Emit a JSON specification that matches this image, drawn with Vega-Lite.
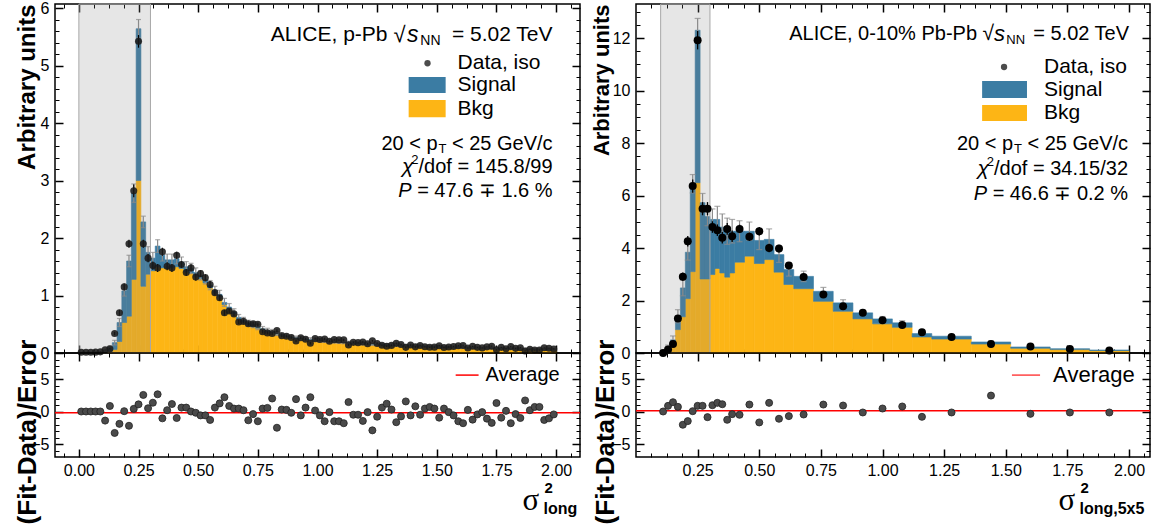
{
"$schema":"https://vega.github.io/schema/vega-lite/v6.json",
"padding":{"left":13,"top":-1,"right":7,"bottom":11},
"bounds":"flush",
"columns":2,
"spacing":{"row":0,"column":56},
"config":{"view":{"stroke":"black","strokeWidth":1.5},"axis":{"labelFont":"Liberation Sans","titleFont":"Liberation Sans","labelColor":"black","tickColor":"black","titleColor":"black","domain":false,"grid":false,"labelFontSize":16},"text":{"font":"Liberation Sans","color":"black"}},
"resolve":{"scale":{"x":"independent","y":"independent"}},
"datasets":{
"L":[
{"lo":0,"hi":0.02,"c":0.01,"tot":0.01,"bkg":0.005,"e":0.005,"d":0.012,"de":0.004,"r":0},
{"lo":0.02,"hi":0.04,"c":0.03,"tot":0.01,"bkg":0.005,"e":0.005,"d":0.012,"de":0.004,"r":0},
{"lo":0.04,"hi":0.06,"c":0.05,"tot":0.012,"bkg":0.005,"e":0.005,"d":0.012,"de":0.004,"r":0},
{"lo":0.06,"hi":0.08,"c":0.07,"tot":0.015,"bkg":0.006,"e":0.006,"d":0.015,"de":0.004,"r":0},
{"lo":0.08,"hi":0.1,"c":0.09,"tot":0.02,"bkg":0.008,"e":0.006,"d":0.02,"de":0.004,"r":0},
{"lo":0.1,"hi":0.12,"c":0.11,"tot":0.04,"bkg":0.012,"e":0.012,"d":0.055,"de":0.008,"r":-1.4},
{"lo":0.12,"hi":0.14,"c":0.13,"tot":0.1,"bkg":0.03,"e":0.02,"d":0.075,"de":0.014,"r":0.85},
{"lo":0.14,"hi":0.16,"c":0.15,"tot":0.18,"bkg":0.06,"e":0.04,"d":0.34,"de":0.03,"r":-3.3},
{"lo":0.16,"hi":0.18,"c":0.17,"tot":0.53,"bkg":0.2,"e":0.07,"d":0.7,"de":0.05,"r":-1.9},
{"lo":0.18,"hi":0.2,"c":0.19,"tot":1.08,"bkg":0.53,"e":0.09,"d":1.15,"de":0.06,"r":0.05},
{"lo":0.2,"hi":0.22,"c":0.21,"tot":1.6,"bkg":0.64,"e":0.1,"d":1.9,"de":0.07,"r":-2.2},
{"lo":0.22,"hi":0.24,"c":0.23,"tot":2.78,"bkg":1.28,"e":0.16,"d":2.82,"de":0.11,"r":0.4},
{"lo":0.24,"hi":0.26,"c":0.25,"tot":5.64,"bkg":3.0,"e":0.16,"d":5.42,"de":0.11,"r":1.1},
{"lo":0.26,"hi":0.28,"c":0.27,"tot":2.28,"bkg":1.16,"e":0.1,"d":1.9,"de":0.07,"r":2.55},
{"lo":0.28,"hi":0.3,"c":0.29,"tot":1.75,"bkg":1.37,"e":0.1,"d":1.65,"de":0.07,"r":0.5},
{"lo":0.3,"hi":0.32,"c":0.31,"tot":1.65,"bkg":1.43,"e":0.1,"d":1.52,"de":0.07,"r":1.35},
{"lo":0.32,"hi":0.34,"c":0.33,"tot":1.86,"bkg":1.5,"e":0.11,"d":1.48,"de":0.07,"r":2.65},
{"lo":0.34,"hi":0.36,"c":0.35,"tot":1.7,"bkg":1.48,"e":0.1,"d":1.76,"de":0.07,"r":-1.05},
{"lo":0.36,"hi":0.38,"c":0.37,"tot":1.62,"bkg":1.47,"e":0.1,"d":1.51,"de":0.07,"r":0.2},
{"lo":0.38,"hi":0.4,"c":0.39,"tot":1.62,"bkg":1.48,"e":0.1,"d":1.48,"de":0.07,"r":1.15},
{"lo":0.4,"hi":0.42,"c":0.41,"tot":1.64,"bkg":1.5,"e":0.09,"d":1.7,"de":0.06,"r":-1.0},
{"lo":0.42,"hi":0.44,"c":0.43,"tot":1.58,"bkg":1.47,"e":0.09,"d":1.54,"de":0.06,"r":0.6},
{"lo":0.44,"hi":0.46,"c":0.45,"tot":1.5,"bkg":1.41,"e":0.09,"d":1.4,"de":0.06,"r":0.6},
{"lo":0.46,"hi":0.48,"c":0.47,"tot":1.47,"bkg":1.39,"e":0.09,"d":1.48,"de":0.06,"r":0.0},
{"lo":0.48,"hi":0.5,"c":0.49,"tot":1.4,"bkg":1.33,"e":0.08,"d":1.32,"de":0.06,"r":-0.2},
{"lo":0.5,"hi":0.52,"c":0.51,"tot":1.35,"bkg":1.29,"e":0.08,"d":1.38,"de":0.06,"r":-0.6},
{"lo":0.52,"hi":0.54,"c":0.53,"tot":1.28,"bkg":1.22,"e":0.08,"d":1.31,"de":0.06,"r":-0.6},
{"lo":0.54,"hi":0.56,"c":0.55,"tot":1.18,"bkg":1.13,"e":0.08,"d":1.19,"de":0.06,"r":-1.3},
{"lo":0.56,"hi":0.58,"c":0.57,"tot":1.09,"bkg":1.04,"e":0.07,"d":1.05,"de":0.05,"r":0.6},
{"lo":0.58,"hi":0.6,"c":0.59,"tot":1.02,"bkg":0.97,"e":0.07,"d":0.96,"de":0.05,"r":1.25},
{"lo":0.6,"hi":0.62,"c":0.61,"tot":0.88,"bkg":0.84,"e":0.07,"d":0.7,"de":0.05,"r":2.2},
{"lo":0.62,"hi":0.64,"c":0.63,"tot":0.8,"bkg":0.76,"e":0.06,"d":0.73,"de":0.04,"r":0.85},
{"lo":0.64,"hi":0.66,"c":0.65,"tot":0.71,"bkg":0.68,"e":0.06,"d":0.68,"de":0.04,"r":0.45},
{"lo":0.66,"hi":0.68,"c":0.67,"tot":0.62,"bkg":0.59,"e":0.05,"d":0.54,"de":0.035,"r":0.45},
{"lo":0.68,"hi":0.7,"c":0.69,"tot":0.57,"bkg":0.54,"e":0.05,"d":0.55,"de":0.035,"r":0.2},
{"lo":0.7,"hi":0.72,"c":0.71,"tot":0.52,"bkg":0.49,"e":0.05,"d":0.51,"de":0.035,"r":-1.35},
{"lo":0.72,"hi":0.74,"c":0.73,"tot":0.49,"bkg":0.46,"e":0.05,"d":0.51,"de":0.035,"r":-0.4},
{"lo":0.74,"hi":0.76,"c":0.75,"tot":0.45,"bkg":0.43,"e":0.045,"d":0.5,"de":0.03,"r":-1.5},
{"lo":0.76,"hi":0.78,"c":0.77,"tot":0.42,"bkg":0.4,"e":0.04,"d":0.37,"de":0.03,"r":0.45},
{"lo":0.78,"hi":0.8,"c":0.79,"tot":0.39,"bkg":0.37,"e":0.04,"d":0.35,"de":0.03,"r":0.55},
{"lo":0.8,"hi":0.82,"c":0.81,"tot":0.37,"bkg":0.35,"e":0.04,"d":0.34,"de":0.03,"r":2.0},
{"lo":0.82,"hi":0.84,"c":0.83,"tot":0.34,"bkg":0.325,"e":0.035,"d":0.39,"de":0.025,"r":-2.5},
{"lo":0.84,"hi":0.86,"c":0.85,"tot":0.32,"bkg":0.305,"e":0.035,"d":0.3,"de":0.025,"r":0.3},
{"lo":0.86,"hi":0.88,"c":0.87,"tot":0.3,"bkg":0.287,"e":0.03,"d":0.29,"de":0.02,"r":0.25},
{"lo":0.88,"hi":0.9,"c":0.89,"tot":0.28,"bkg":0.268,"e":0.03,"d":0.27,"de":0.02,"r":-0.2},
{"lo":0.9,"hi":0.92,"c":0.91,"tot":0.265,"bkg":0.254,"e":0.03,"d":0.21,"de":0.02,"r":1.9},
{"lo":0.92,"hi":0.94,"c":0.93,"tot":0.255,"bkg":0.245,"e":0.03,"d":0.265,"de":0.02,"r":-0.6},
{"lo":0.94,"hi":0.96,"c":0.95,"tot":0.245,"bkg":0.235,"e":0.03,"d":0.24,"de":0.02,"r":0.6},
{"lo":0.96,"hi":0.98,"c":0.97,"tot":0.235,"bkg":0.226,"e":0.03,"d":0.17,"de":0.02,"r":2.2},
{"lo":0.98,"hi":1.0,"c":0.99,"tot":0.228,"bkg":0.219,"e":0.028,"d":0.25,"de":0.02,"r":0.15},
{"lo":1.0,"hi":1.02,"c":1.01,"tot":0.22,"bkg":0.212,"e":0.028,"d":0.235,"de":0.02,"r":-0.6},
{"lo":1.02,"hi":1.04,"c":1.03,"tot":0.212,"bkg":0.204,"e":0.027,"d":0.245,"de":0.02,"r":-1.5},
{"lo":1.04,"hi":1.06,"c":1.05,"tot":0.205,"bkg":0.197,"e":0.026,"d":0.203,"de":0.018,"r":-0.1},
{"lo":1.06,"hi":1.08,"c":1.07,"tot":0.198,"bkg":0.19,"e":0.026,"d":0.232,"de":0.018,"r":-1.5},
{"lo":1.08,"hi":1.1,"c":1.09,"tot":0.192,"bkg":0.185,"e":0.025,"d":0.228,"de":0.018,"r":-1.5},
{"lo":1.1,"hi":1.12,"c":1.11,"tot":0.186,"bkg":0.179,"e":0.025,"d":0.228,"de":0.018,"r":-1.8},
{"lo":1.12,"hi":1.14,"c":1.13,"tot":0.18,"bkg":0.173,"e":0.025,"d":0.141,"de":0.018,"r":1.45},
{"lo":1.14,"hi":1.16,"c":1.15,"tot":0.174,"bkg":0.167,"e":0.024,"d":0.185,"de":0.017,"r":-0.5},
{"lo":1.16,"hi":1.18,"c":1.17,"tot":0.168,"bkg":0.161,"e":0.024,"d":0.18,"de":0.017,"r":-0.5},
{"lo":1.18,"hi":1.2,"c":1.19,"tot":0.162,"bkg":0.155,"e":0.023,"d":0.191,"de":0.016,"r":-1.45},
{"lo":1.2,"hi":1.22,"c":1.21,"tot":0.158,"bkg":0.151,"e":0.023,"d":0.16,"de":0.016,"r":-0.1},
{"lo":1.22,"hi":1.24,"c":1.23,"tot":0.154,"bkg":0.147,"e":0.023,"d":0.212,"de":0.016,"r":-2.9},
{"lo":1.24,"hi":1.26,"c":1.25,"tot":0.15,"bkg":0.143,"e":0.022,"d":0.166,"de":0.015,"r":-0.8},
{"lo":1.26,"hi":1.28,"c":1.27,"tot":0.146,"bkg":0.139,"e":0.022,"d":0.134,"de":0.015,"r":0.6},
{"lo":1.28,"hi":1.3,"c":1.29,"tot":0.142,"bkg":0.135,"e":0.022,"d":0.118,"de":0.015,"r":1.2},
{"lo":1.3,"hi":1.32,"c":1.31,"tot":0.138,"bkg":0.131,"e":0.021,"d":0.132,"de":0.015,"r":0.3},
{"lo":1.32,"hi":1.34,"c":1.33,"tot":0.135,"bkg":0.128,"e":0.021,"d":0.168,"de":0.015,"r":-1.65},
{"lo":1.34,"hi":1.36,"c":1.35,"tot":0.132,"bkg":0.125,"e":0.021,"d":0.147,"de":0.015,"r":-0.75},
{"lo":1.36,"hi":1.38,"c":1.37,"tot":0.129,"bkg":0.122,"e":0.02,"d":0.098,"de":0.014,"r":1.55},
{"lo":1.38,"hi":1.4,"c":1.39,"tot":0.126,"bkg":0.119,"e":0.02,"d":0.138,"de":0.014,"r":-0.6},
{"lo":1.4,"hi":1.42,"c":1.41,"tot":0.123,"bkg":0.117,"e":0.02,"d":0.107,"de":0.014,"r":0.8},
{"lo":1.42,"hi":1.44,"c":1.43,"tot":0.12,"bkg":0.114,"e":0.02,"d":0.13,"de":0.014,"r":-0.5},
{"lo":1.44,"hi":1.46,"c":1.45,"tot":0.117,"bkg":0.111,"e":0.019,"d":0.108,"de":0.013,"r":0.45},
{"lo":1.46,"hi":1.48,"c":1.47,"tot":0.114,"bkg":0.108,"e":0.019,"d":0.1,"de":0.013,"r":0.7},
{"lo":1.48,"hi":1.5,"c":1.49,"tot":0.111,"bkg":0.105,"e":0.019,"d":0.102,"de":0.013,"r":0.45},
{"lo":1.5,"hi":1.52,"c":1.51,"tot":0.108,"bkg":0.102,"e":0.018,"d":0.127,"de":0.013,"r":-0.95},
{"lo":1.52,"hi":1.54,"c":1.53,"tot":0.105,"bkg":0.099,"e":0.018,"d":0.096,"de":0.013,"r":0.45},
{"lo":1.54,"hi":1.56,"c":1.55,"tot":0.102,"bkg":0.097,"e":0.018,"d":0.104,"de":0.013,"r":-0.1},
{"lo":1.56,"hi":1.58,"c":1.57,"tot":0.1,"bkg":0.095,"e":0.018,"d":0.112,"de":0.013,"r":-0.6},
{"lo":1.58,"hi":1.6,"c":1.59,"tot":0.097,"bkg":0.092,"e":0.017,"d":0.127,"de":0.012,"r":-1.5},
{"lo":1.6,"hi":1.62,"c":1.61,"tot":0.095,"bkg":0.09,"e":0.017,"d":0.131,"de":0.012,"r":-1.8},
{"lo":1.62,"hi":1.64,"c":1.63,"tot":0.093,"bkg":0.088,"e":0.017,"d":0.088,"de":0.012,"r":0.25},
{"lo":1.64,"hi":1.66,"c":1.65,"tot":0.091,"bkg":0.086,"e":0.017,"d":0.116,"de":0.012,"r":-1.25},
{"lo":1.66,"hi":1.68,"c":1.67,"tot":0.089,"bkg":0.084,"e":0.016,"d":0.098,"de":0.011,"r":-0.45},
{"lo":1.68,"hi":1.7,"c":1.69,"tot":0.087,"bkg":0.082,"e":0.016,"d":0.089,"de":0.011,"r":-0.1},
{"lo":1.7,"hi":1.72,"c":1.71,"tot":0.085,"bkg":0.08,"e":0.016,"d":0.107,"de":0.011,"r":-1.1},
{"lo":1.72,"hi":1.74,"c":1.73,"tot":0.083,"bkg":0.078,"e":0.016,"d":0.118,"de":0.011,"r":-1.75},
{"lo":1.74,"hi":1.76,"c":1.75,"tot":0.081,"bkg":0.077,"e":0.016,"d":0.055,"de":0.011,"r":1.3},
{"lo":1.76,"hi":1.78,"c":1.77,"tot":0.079,"bkg":0.075,"e":0.015,"d":0.098,"de":0.011,"r":-0.95},
{"lo":1.78,"hi":1.8,"c":1.79,"tot":0.077,"bkg":0.073,"e":0.015,"d":0.075,"de":0.011,"r":0.1},
{"lo":1.8,"hi":1.82,"c":1.81,"tot":0.075,"bkg":0.071,"e":0.015,"d":0.111,"de":0.011,"r":-1.8},
{"lo":1.82,"hi":1.84,"c":1.83,"tot":0.073,"bkg":0.069,"e":0.015,"d":0.081,"de":0.011,"r":-0.4},
{"lo":1.84,"hi":1.86,"c":1.85,"tot":0.072,"bkg":0.068,"e":0.015,"d":0.092,"de":0.011,"r":-1.0},
{"lo":1.86,"hi":1.88,"c":1.87,"tot":0.07,"bkg":0.066,"e":0.015,"d":0.036,"de":0.011,"r":1.7},
{"lo":1.88,"hi":1.9,"c":1.89,"tot":0.069,"bkg":0.065,"e":0.014,"d":0.065,"de":0.01,"r":0.2},
{"lo":1.9,"hi":1.92,"c":1.91,"tot":0.067,"bkg":0.063,"e":0.014,"d":0.053,"de":0.01,"r":0.7},
{"lo":1.92,"hi":1.94,"c":1.93,"tot":0.066,"bkg":0.062,"e":0.014,"d":0.052,"de":0.01,"r":0.7},
{"lo":1.94,"hi":1.96,"c":1.95,"tot":0.064,"bkg":0.06,"e":0.014,"d":0.09,"de":0.01,"r":-1.3},
{"lo":1.96,"hi":1.98,"c":1.97,"tot":0.063,"bkg":0.059,"e":0.014,"d":0.084,"de":0.01,"r":-1.05},
{"lo":1.98,"hi":2.0,"c":1.99,"tot":0.062,"bkg":0.058,"e":0.014,"d":0.071,"de":0.01,"r":-0.45}
],
"R":[
{"lo":0.1,"hi":0.12,"c":0.11,"tot":0.03,"bkg":0.0,"e":0.03,"d":0.0,"de":0.02,"r":0.0},
{"lo":0.12,"hi":0.14,"c":0.13,"tot":0.2,"bkg":0.05,"e":0.1,"d":0.13,"de":0.05,"r":0.87},
{"lo":0.14,"hi":0.16,"c":0.15,"tot":0.5,"bkg":0.25,"e":0.15,"d":0.34,"de":0.08,"r":1.43},
{"lo":0.16,"hi":0.18,"c":0.17,"tot":1.4,"bkg":0.89,"e":0.25,"d":1.31,"de":0.12,"r":0.71},
{"lo":0.18,"hi":0.2,"c":0.19,"tot":2.48,"bkg":1.38,"e":0.3,"d":2.91,"de":0.16,"r":-2.04},
{"lo":0.2,"hi":0.22,"c":0.21,"tot":3.84,"bkg":2.07,"e":0.3,"d":4.26,"de":0.2,"r":-1.48},
{"lo":0.22,"hi":0.24,"c":0.23,"tot":6.45,"bkg":3.1,"e":0.35,"d":6.36,"de":0.25,"r":0.05},
{"lo":0.24,"hi":0.26,"c":0.25,"tot":12.3,"bkg":6.49,"e":0.45,"d":11.92,"de":0.35,"r":0.87},
{"lo":0.26,"hi":0.28,"c":0.27,"tot":5.73,"bkg":2.82,"e":0.35,"d":5.5,"de":0.25,"r":0.87},
{"lo":0.28,"hi":0.3,"c":0.29,"tot":5.2,"bkg":2.82,"e":0.35,"d":5.5,"de":0.25,"r":-0.87},
{"lo":0.3,"hi":0.32,"c":0.31,"tot":5.09,"bkg":2.99,"e":0.4,"d":4.8,"de":0.22,"r":0.97},
{"lo":0.32,"hi":0.34,"c":0.33,"tot":5.09,"bkg":3.22,"e":0.5,"d":4.68,"de":0.22,"r":1.33},
{"lo":0.34,"hi":0.36,"c":0.35,"tot":4.8,"bkg":3.05,"e":0.5,"d":4.39,"de":0.22,"r":1.12},
{"lo":0.36,"hi":0.38,"c":0.37,"tot":4.64,"bkg":2.89,"e":0.5,"d":4.73,"de":0.22,"r":-1.28},
{"lo":0.38,"hi":0.4,"c":0.39,"tot":4.64,"bkg":3.05,"e":0.45,"d":4.45,"de":0.22,"r":-0.41},
{"lo":0.4,"hi":0.44,"c":0.42,"tot":4.64,"bkg":3.46,"e":0.4,"d":4.73,"de":0.16,"r":-0.51},
{"lo":0.44,"hi":0.48,"c":0.46,"tot":4.64,"bkg":3.69,"e":0.35,"d":4.43,"de":0.16,"r":1.07},
{"lo":0.48,"hi":0.52,"c":0.5,"tot":4.29,"bkg":3.41,"e":0.35,"d":4.64,"de":0.16,"r":-1.68},
{"lo":0.52,"hi":0.56,"c":0.54,"tot":4.33,"bkg":3.56,"e":0.4,"d":4.0,"de":0.16,"r":1.33},
{"lo":0.56,"hi":0.6,"c":0.58,"tot":3.75,"bkg":3.08,"e":0.3,"d":3.98,"de":0.15,"r":-1.12},
{"lo":0.6,"hi":0.64,"c":0.62,"tot":3.18,"bkg":2.61,"e":0.25,"d":3.33,"de":0.14,"r":-0.71},
{"lo":0.64,"hi":0.72,"c":0.68,"tot":2.92,"bkg":2.45,"e":0.2,"d":2.9,"de":0.1,"r":-0.46},
{"lo":0.72,"hi":0.8,"c":0.76,"tot":2.35,"bkg":1.97,"e":0.15,"d":2.23,"de":0.09,"r":1.07},
{"lo":0.8,"hi":0.88,"c":0.84,"tot":1.91,"bkg":1.59,"e":0.12,"d":1.78,"de":0.08,"r":0.92},
{"lo":0.88,"hi":0.96,"c":0.92,"tot":1.53,"bkg":1.3,"e":0.1,"d":1.53,"de":0.07,"r":-0.15},
{"lo":0.96,"hi":1.04,"c":1.0,"tot":1.3,"bkg":1.11,"e":0.09,"d":1.25,"de":0.06,"r":0.46},
{"lo":1.04,"hi":1.12,"c":1.08,"tot":1.15,"bkg":0.98,"e":0.08,"d":1.07,"de":0.06,"r":0.77},
{"lo":1.12,"hi":1.2,"c":1.16,"tot":0.74,"bkg":0.61,"e":0.07,"d":0.79,"de":0.05,"r":-0.82},
{"lo":1.2,"hi":1.36,"c":1.28,"tot":0.64,"bkg":0.53,"e":0.05,"d":0.61,"de":0.04,"r":-0.15},
{"lo":1.36,"hi":1.52,"c":1.44,"tot":0.42,"bkg":0.34,"e":0.04,"d":0.34,"de":0.03,"r":2.45},
{"lo":1.52,"hi":1.68,"c":1.6,"tot":0.23,"bkg":0.18,"e":0.03,"d":0.25,"de":0.03,"r":-0.36},
{"lo":1.68,"hi":1.84,"c":1.76,"tot":0.165,"bkg":0.13,"e":0.02,"d":0.15,"de":0.02,"r":-0.15},
{"lo":1.84,"hi":2.0,"c":1.92,"tot":0.115,"bkg":0.09,"e":0.02,"d":0.1,"de":0.02,"r":-0.15}
]
},
"concat":[
{"width":525,"height":349,"data":{"name":"L"},
"resolve":{"axis":{"x":"independent","y":"independent"}},
"layer":[
{"mark":{"type":"rect","fill":"#fdb515","stroke":"#fdb515","strokeWidth":0.6},
"encoding":{
"x":{"field":"lo","type":"quantitative","scale":{"domain":[-0.1,2.1],"nice":false,"zero":false},"axis":{"orient":"bottom","values":[0,0.25,0.5,0.75,1,1.25,1.5,1.75,2],"labels":false,"tickSize":-8,"tickWidth":1.5,"title":null}},
"x2":{"field":"hi"},
"y":{"field":"bkg","type":"quantitative","scale":{"domain":[0,6.07],"nice":false,"zero":false},"axis":{"orient":"left","values":[0,1,2,3,4,5,6],"format":"d","tickSize":-8,"tickWidth":1.5,"labelPadding":14,"title":"Arbitrary units","titleFontSize":24,"titleFontWeight":"bold","titleAngle":270,"titleAlign":"right","titleBaseline":"alphabetic","titleX":-21,"titleY":0}},
"y2":{"datum":0}}},
{"mark":{"type":"rect","fill":"#3b7ca3","stroke":"#3b7ca3","strokeWidth":0.6},
"encoding":{
"x":{"field":"lo","type":"quantitative","axis":{"orient":"bottom","values":[-0.0625,0.0625,0.125,0.1875,0.3125,0.375,0.4375,0.5625,0.625,0.6875,0.8125,0.875,0.9375,1.0625,1.125,1.1875,1.3125,1.375,1.4375,1.5625,1.625,1.6875,1.8125,1.875,1.9375,2.0625],"labels":false,"tickSize":-4,"title":null}},
"x2":{"field":"hi"},
"y":{"field":"tot","type":"quantitative","axis":{"orient":"left","values":[0.2,0.4,0.6,0.8,1.2,1.4,1.6,1.8,2.2,2.4,2.6,2.8,3.2,3.4,3.6,3.8,4.2,4.4,4.6,4.8,5.2,5.4,5.6,5.8],"labels":false,"tickSize":-4,"title":null}},
"y2":{"field":"bkg"}}},
{"mark":{"type":"errorbar","color":"#8c8c8c","thickness":1.2,"ticks":{"size":5}},
"encoding":{"x":{"field":"c","type":"quantitative","axis":null},"y":{"field":"tot","type":"quantitative","axis":null},"yError":{"field":"e"}}},
{"data":{"values":[{}]},"mark":{"type":"rect","fill":"#808080","fillOpacity":0.2,"stroke":"#a8a8a8","strokeWidth":1},
"encoding":{
"x":{"datum":0,"type":"quantitative","axis":{"orient":"top","values":[0,0.25,0.5,0.75,1,1.25,1.5,1.75,2],"labels":false,"tickSize":-8,"tickWidth":1.5,"title":null}},
"x2":{"datum":0.3},
"y":{"datum":0,"type":"quantitative","axis":{"orient":"right","values":[0,1,2,3,4,5,6],"labels":false,"tickSize":-8,"tickWidth":1.5,"title":null}},
"y2":{"datum":6.07}}},
{"mark":{"type":"errorbar","color":"#000000","thickness":1.2},
"encoding":{"x":{"field":"c","type":"quantitative","axis":null},"y":{"field":"d","type":"quantitative","axis":null},"yError":{"field":"de"}}},
{"mark":{"type":"circle","size":50,"color":"#1a1a1a","opacity":0.88},
"encoding":{
"x":{"field":"c","type":"quantitative","axis":{"orient":"top","values":[-0.0625,0.0625,0.125,0.1875,0.3125,0.375,0.4375,0.5625,0.625,0.6875,0.8125,0.875,0.9375,1.0625,1.125,1.1875,1.3125,1.375,1.4375,1.5625,1.625,1.6875,1.8125,1.875,1.9375,2.0625],"labels":false,"tickSize":-4,"title":null}},
"y":{"field":"d","type":"quantitative","axis":{"orient":"right","values":[0.2,0.4,0.6,0.8,1.2,1.4,1.6,1.8,2.2,2.4,2.6,2.8,3.2,3.4,3.6,3.8,4.2,4.4,4.6,4.8,5.2,5.4,5.6,5.8],"labels":false,"tickSize":-4,"title":null}}}},
{"data":{"values":[{}]},"mark":{"type":"text","text":"= 5.02 TeV","align":"right","baseline":"middle","fontSize":21},
"encoding":{"x":{"datum":1.985,"type":"quantitative","axis":null},"y":{"datum":5.53,"type":"quantitative","axis":null}}},
{"data":{"values":[{}]},"mark":{"type":"text","text":"NN","align":"right","baseline":"middle","fontSize":14,"dx":-112,"dy":6},
"encoding":{"x":{"datum":1.985,"type":"quantitative","axis":null},"y":{"datum":5.53,"type":"quantitative","axis":null}}},
{"data":{"values":[{}]},"mark":{"type":"text","text":"s","align":"right","baseline":"middle","fontSize":23,"fontStyle":"italic","dx":-134},
"encoding":{"x":{"datum":1.985,"type":"quantitative","axis":null},"y":{"datum":5.53,"type":"quantitative","axis":null}}},
{"data":{"values":[{}]},"mark":{"type":"text","text":"√","align":"right","baseline":"middle","fontSize":22,"dx":-147},
"encoding":{"x":{"datum":1.985,"type":"quantitative","axis":null},"y":{"datum":5.53,"type":"quantitative","axis":null}}},
{"data":{"values":[{}]},"mark":{"type":"text","text":"ALICE, p-Pb","align":"right","baseline":"middle","fontSize":21,"dx":-165},
"encoding":{"x":{"datum":1.985,"type":"quantitative","axis":null},"y":{"datum":5.53,"type":"quantitative","axis":null}}},
{"data":{"values":[{}]},"mark":{"type":"circle","size":40,"color":"black"},
"encoding":{"x":{"datum":1.461,"type":"quantitative","axis":null},"y":{"datum":5.04,"type":"quantitative","axis":null}}},
{"data":{"values":[{}]},"mark":{"type":"text","text":"Data, iso","align":"left","baseline":"middle","fontSize":21},
"encoding":{"x":{"datum":1.587,"type":"quantitative","axis":null},"y":{"datum":5.04,"type":"quantitative","axis":null}}},
{"data":{"values":[{}]},"mark":{"type":"rect","fill":"#3b7ca3"},
"encoding":{"x":{"datum":1.382,"type":"quantitative","axis":null},"x2":{"datum":1.537},"y":{"datum":4.8,"type":"quantitative","axis":null},"y2":{"datum":4.52}}},
{"data":{"values":[{}]},"mark":{"type":"text","text":"Signal","align":"left","baseline":"middle","fontSize":21},
"encoding":{"x":{"datum":1.587,"type":"quantitative","axis":null},"y":{"datum":4.66,"type":"quantitative","axis":null}}},
{"data":{"values":[{}]},"mark":{"type":"rect","fill":"#fdb515"},
"encoding":{"x":{"datum":1.382,"type":"quantitative","axis":null},"x2":{"datum":1.537},"y":{"datum":4.4,"type":"quantitative","axis":null},"y2":{"datum":4.1}}},
{"data":{"values":[{}]},"mark":{"type":"text","text":"Bkg","align":"left","baseline":"middle","fontSize":21},
"encoding":{"x":{"datum":1.587,"type":"quantitative","axis":null},"y":{"datum":4.25,"type":"quantitative","axis":null}}},
{"data":{"values":[{}]},"mark":{"type":"text","text":"< 25 GeV/c","align":"right","baseline":"middle","fontSize":20},
"encoding":{"x":{"datum":1.985,"type":"quantitative","axis":null},"y":{"datum":3.63,"type":"quantitative","axis":null}}},
{"data":{"values":[{}]},"mark":{"type":"text","text":"T","align":"right","baseline":"middle","fontSize":13,"dx":-106,"dy":5},
"encoding":{"x":{"datum":1.985,"type":"quantitative","axis":null},"y":{"datum":3.63,"type":"quantitative","axis":null}}},
{"data":{"values":[{}]},"mark":{"type":"text","text":"20 < p","align":"right","baseline":"middle","fontSize":20,"dx":-115},
"encoding":{"x":{"datum":1.985,"type":"quantitative","axis":null},"y":{"datum":3.63,"type":"quantitative","axis":null}}},
{"data":{"values":[{}]},"mark":{"type":"text","text":"/dof = 145.8/99","align":"right","baseline":"middle","fontSize":20},
"encoding":{"x":{"datum":1.985,"type":"quantitative","axis":null},"y":{"datum":3.23,"type":"quantitative","axis":null}}},
{"data":{"values":[{}]},"mark":{"type":"text","text":"2","align":"right","baseline":"middle","fontSize":13,"dx":-134,"dy":-7},
"encoding":{"x":{"datum":1.985,"type":"quantitative","axis":null},"y":{"datum":3.23,"type":"quantitative","axis":null}}},
{"data":{"values":[{}]},"mark":{"type":"text","text":"χ","align":"right","baseline":"middle","fontSize":21,"fontStyle":"italic","dx":-139},
"encoding":{"x":{"datum":1.985,"type":"quantitative","axis":null},"y":{"datum":3.23,"type":"quantitative","axis":null}}},
{"data":{"values":[{}]},"mark":{"type":"text","text":"= 47.6 ∓ 1.6 %","align":"right","baseline":"middle","fontSize":20},
"encoding":{"x":{"datum":1.985,"type":"quantitative","axis":null},"y":{"datum":2.82,"type":"quantitative","axis":null}}},
{"data":{"values":[{}]},"mark":{"type":"text","text":"P","align":"right","baseline":"middle","fontSize":20,"fontStyle":"italic","dx":-141},
"encoding":{"x":{"datum":1.985,"type":"quantitative","axis":null},"y":{"datum":2.82,"type":"quantitative","axis":null}}}
]},
{"width":514,"height":349,"data":{"name":"R"},
"resolve":{"axis":{"x":"independent","y":"independent"}},
"layer":[
{"mark":{"type":"rect","fill":"#fdb515","stroke":"#fdb515","strokeWidth":0.6},
"encoding":{
"x":{"field":"lo","type":"quantitative","scale":{"domain":[0,2.085],"nice":false,"zero":false},"axis":{"orient":"bottom","values":[0.25,0.5,0.75,1,1.25,1.5,1.75,2],"labels":false,"tickSize":-8,"tickWidth":1.5,"title":null}},
"x2":{"field":"hi"},
"y":{"field":"bkg","type":"quantitative","scale":{"domain":[0,13.3],"nice":false,"zero":false},"axis":{"orient":"left","values":[0,2,4,6,8,10,12],"format":"d","tickSize":-8,"tickWidth":1.5,"labelPadding":14,"title":"Arbitrary units","titleFontSize":22,"titleFontWeight":"bold","titleAngle":270,"titleAlign":"right","titleBaseline":"alphabetic","titleX":-28,"titleY":0}},
"y2":{"datum":0}}},
{"mark":{"type":"rect","fill":"#3b7ca3","stroke":"#3b7ca3","strokeWidth":0.6},
"encoding":{
"x":{"field":"lo","type":"quantitative","axis":{"orient":"bottom","values":[0.0625,0.125,0.1875,0.3125,0.375,0.4375,0.5625,0.625,0.6875,0.8125,0.875,0.9375,1.0625,1.125,1.1875,1.3125,1.375,1.4375,1.5625,1.625,1.6875,1.8125,1.875,1.9375,2.0625],"labels":false,"tickSize":-4,"title":null}},
"x2":{"field":"hi"},
"y":{"field":"tot","type":"quantitative","axis":{"orient":"left","values":[0.5,1,1.5,2.5,3,3.5,4.5,5,5.5,6.5,7,7.5,8.5,9,9.5,10.5,11,11.5,12.5,13],"labels":false,"tickSize":-4,"title":null}},
"y2":{"field":"bkg"}}},
{"mark":{"type":"errorbar","color":"#8c8c8c","thickness":1.2,"ticks":{"size":6}},
"encoding":{"x":{"field":"c","type":"quantitative","axis":null},"y":{"field":"tot","type":"quantitative","axis":null},"yError":{"field":"e"}}},
{"data":{"values":[{}]},"mark":{"type":"rect","fill":"#808080","fillOpacity":0.2,"stroke":"#a8a8a8","strokeWidth":1},
"encoding":{
"x":{"datum":0.1,"type":"quantitative","axis":{"orient":"top","values":[0.25,0.5,0.75,1,1.25,1.5,1.75,2],"labels":false,"tickSize":-8,"tickWidth":1.5,"title":null}},
"x2":{"datum":0.3},
"y":{"datum":0,"type":"quantitative","axis":{"orient":"right","values":[0,2,4,6,8,10,12],"labels":false,"tickSize":-8,"tickWidth":1.5,"title":null}},
"y2":{"datum":13.3}}},
{"mark":{"type":"errorbar","color":"#000000","thickness":1.3},
"encoding":{"x":{"field":"c","type":"quantitative","axis":null},"y":{"field":"d","type":"quantitative","axis":null},"yError":{"field":"de"}}},
{"mark":{"type":"circle","size":64,"color":"#000000","opacity":1},
"encoding":{
"x":{"field":"c","type":"quantitative","axis":{"orient":"top","values":[0.0625,0.125,0.1875,0.3125,0.375,0.4375,0.5625,0.625,0.6875,0.8125,0.875,0.9375,1.0625,1.125,1.1875,1.3125,1.375,1.4375,1.5625,1.625,1.6875,1.8125,1.875,1.9375,2.0625],"labels":false,"tickSize":-4,"title":null}},
"y":{"field":"d","type":"quantitative","axis":{"orient":"right","values":[0.5,1,1.5,2.5,3,3.5,4.5,5,5.5,6.5,7,7.5,8.5,9,9.5,10.5,11,11.5,12.5,13],"labels":false,"tickSize":-4,"title":null}}}},
{"data":{"values":[{}]},"mark":{"type":"text","text":"= 5.02 TeV","align":"right","baseline":"middle","fontSize":20},
"encoding":{"x":{"datum":2.0,"type":"quantitative","axis":null},"y":{"datum":12.16,"type":"quantitative","axis":null}}},
{"data":{"values":[{}]},"mark":{"type":"text","text":"NN","align":"right","baseline":"middle","fontSize":13,"dx":-104,"dy":6},
"encoding":{"x":{"datum":2.0,"type":"quantitative","axis":null},"y":{"datum":12.16,"type":"quantitative","axis":null}}},
{"data":{"values":[{}]},"mark":{"type":"text","text":"s","align":"right","baseline":"middle","fontSize":22,"fontStyle":"italic","dx":-124},
"encoding":{"x":{"datum":2.0,"type":"quantitative","axis":null},"y":{"datum":12.16,"type":"quantitative","axis":null}}},
{"data":{"values":[{}]},"mark":{"type":"text","text":"√","align":"right","baseline":"middle","fontSize":21,"dx":-135},
"encoding":{"x":{"datum":2.0,"type":"quantitative","axis":null},"y":{"datum":12.16,"type":"quantitative","axis":null}}},
{"data":{"values":[{}]},"mark":{"type":"text","text":"ALICE, 0-10% Pb-Pb","align":"right","baseline":"middle","fontSize":20,"dx":-152},
"encoding":{"x":{"datum":2.0,"type":"quantitative","axis":null},"y":{"datum":12.16,"type":"quantitative","axis":null}}},
{"data":{"values":[{}]},"mark":{"type":"circle","size":40,"color":"black"},
"encoding":{"x":{"datum":1.493,"type":"quantitative","axis":null},"y":{"datum":10.9,"type":"quantitative","axis":null}}},
{"data":{"values":[{}]},"mark":{"type":"text","text":"Data, iso","align":"left","baseline":"middle","fontSize":21},
"encoding":{"x":{"datum":1.655,"type":"quantitative","axis":null},"y":{"datum":10.9,"type":"quantitative","axis":null}}},
{"data":{"values":[{}]},"mark":{"type":"rect","fill":"#3b7ca3"},
"encoding":{"x":{"datum":1.404,"type":"quantitative","axis":null},"x2":{"datum":1.586},"y":{"datum":10.37,"type":"quantitative","axis":null},"y2":{"datum":9.72}}},
{"data":{"values":[{}]},"mark":{"type":"text","text":"Signal","align":"left","baseline":"middle","fontSize":21},
"encoding":{"x":{"datum":1.655,"type":"quantitative","axis":null},"y":{"datum":10.03,"type":"quantitative","axis":null}}},
{"data":{"values":[{}]},"mark":{"type":"rect","fill":"#fdb515"},
"encoding":{"x":{"datum":1.404,"type":"quantitative","axis":null},"x2":{"datum":1.586},"y":{"datum":9.45,"type":"quantitative","axis":null},"y2":{"datum":8.84}}},
{"data":{"values":[{}]},"mark":{"type":"text","text":"Bkg","align":"left","baseline":"middle","fontSize":21},
"encoding":{"x":{"datum":1.655,"type":"quantitative","axis":null},"y":{"datum":9.15,"type":"quantitative","axis":null}}},
{"data":{"values":[{}]},"mark":{"type":"text","text":"< 25 GeV/c","align":"right","baseline":"middle","fontSize":20},
"encoding":{"x":{"datum":1.996,"type":"quantitative","axis":null},"y":{"datum":7.97,"type":"quantitative","axis":null}}},
{"data":{"values":[{}]},"mark":{"type":"text","text":"T","align":"right","baseline":"middle","fontSize":13,"dx":-106,"dy":5},
"encoding":{"x":{"datum":1.996,"type":"quantitative","axis":null},"y":{"datum":7.97,"type":"quantitative","axis":null}}},
{"data":{"values":[{}]},"mark":{"type":"text","text":"20 < p","align":"right","baseline":"middle","fontSize":20,"dx":-115},
"encoding":{"x":{"datum":1.996,"type":"quantitative","axis":null},"y":{"datum":7.97,"type":"quantitative","axis":null}}},
{"data":{"values":[{}]},"mark":{"type":"text","text":"/dof = 34.15/32","align":"right","baseline":"middle","fontSize":20},
"encoding":{"x":{"datum":1.996,"type":"quantitative","axis":null},"y":{"datum":7.01,"type":"quantitative","axis":null}}},
{"data":{"values":[{}]},"mark":{"type":"text","text":"2","align":"right","baseline":"middle","fontSize":13,"dx":-134,"dy":-7},
"encoding":{"x":{"datum":1.996,"type":"quantitative","axis":null},"y":{"datum":7.01,"type":"quantitative","axis":null}}},
{"data":{"values":[{}]},"mark":{"type":"text","text":"χ","align":"right","baseline":"middle","fontSize":21,"fontStyle":"italic","dx":-139},
"encoding":{"x":{"datum":1.996,"type":"quantitative","axis":null},"y":{"datum":7.01,"type":"quantitative","axis":null}}},
{"data":{"values":[{}]},"mark":{"type":"text","text":"= 46.6 ∓ 0.2 %","align":"right","baseline":"middle","fontSize":20},
"encoding":{"x":{"datum":1.996,"type":"quantitative","axis":null},"y":{"datum":6.06,"type":"quantitative","axis":null}}},
{"data":{"values":[{}]},"mark":{"type":"text","text":"P","align":"right","baseline":"middle","fontSize":20,"fontStyle":"italic","dx":-141},
"encoding":{"x":{"datum":1.996,"type":"quantitative","axis":null},"y":{"datum":6.06,"type":"quantitative","axis":null}}}
]},
{"width":525,"height":104,"data":{"name":"L"},
"resolve":{"axis":{"x":"independent","y":"independent"}},
"layer":[
{"data":{"values":[{}]},"mark":{"type":"rule","color":"#ff0000","strokeWidth":1.5},
"encoding":{
"x":{"datum":-0.1,"type":"quantitative","scale":{"domain":[-0.1,2.1],"nice":false,"zero":false},"axis":{"orient":"top","values":[-0.0625,0.0625,0.125,0.1875,0.3125,0.375,0.4375,0.5625,0.625,0.6875,0.8125,0.875,0.9375,1.0625,1.125,1.1875,1.3125,1.375,1.4375,1.5625,1.625,1.6875,1.8125,1.875,1.9375,2.0625],"labels":false,"tickSize":-4,"title":null}},
"x2":{"datum":2.1},
"y":{"datum":-0.2,"type":"quantitative","scale":{"domain":[-7,9],"nice":false,"zero":false},"axis":{"orient":"right","values":[-6,-4,-3,-2,-1,1,2,3,4,6,7,8],"labels":false,"tickSize":-4,"title":null}}}},
{"mark":{"type":"circle","size":50,"color":"#4a4a4a","stroke":"#222222","strokeWidth":0.8,"opacity":1},
"encoding":{
"x":{"field":"c","type":"quantitative","axis":{"orient":"bottom","values":[0,0.25,0.5,0.75,1,1.25,1.5,1.75,2],"format":".2f","tickSize":-8,"tickWidth":1.5,"labelPadding":13,"title":"σ","titleFont":"Liberation Serif","titleFontSize":31,"titleFontWeight":"normal","titleAngle":0,"titleAlign":"left","titleBaseline":"alphabetic","titleX":467,"titleY":52}},
"y":{"field":"r","type":"quantitative","axis":{"orient":"left","values":[-5,0,5],"format":"d","tickSize":-8,"tickWidth":1.5,"labelPadding":14,"title":"(Fit-Data)/Error","titleFontSize":26,"titleFontWeight":"bold","titleAngle":270,"titleAlign":"right","titleBaseline":"alphabetic","titleX":-20,"titleY":-14}}}},
{"data":{"values":[{}]},"mark":{"type":"rule","color":"#ff0000","strokeWidth":1.5},
"encoding":{
"x":{"datum":1.579,"type":"quantitative","axis":{"orient":"bottom","values":[-0.0625,0.0625,0.125,0.1875,0.3125,0.375,0.4375,0.5625,0.625,0.6875,0.8125,0.875,0.9375,1.0625,1.125,1.1875,1.3125,1.375,1.4375,1.5625,1.625,1.6875,1.8125,1.875,1.9375,2.0625],"labels":false,"tickSize":-4,"title":"long","titleFontSize":16,"titleFontWeight":"bold","titleAngle":0,"titleAlign":"left","titleBaseline":"alphabetic","titleX":488,"titleY":56}},
"x2":{"datum":1.675},
"y":{"datum":5.6,"type":"quantitative","axis":{"orient":"left","values":[-6,-4,-3,-2,-1,1,2,3,4,6,7,8],"labels":false,"tickSize":-4,"title":null}}}},
{"data":{"values":[{}]},"mark":{"type":"text","text":"Average","align":"left","baseline":"middle","fontSize":20},
"encoding":{
"x":{"datum":1.704,"type":"quantitative","axis":{"orient":"top","values":[0,0.25,0.5,0.75,1,1.25,1.5,1.75,2],"labels":false,"tickSize":-8,"tickWidth":1.5,"title":"2","titleFontSize":15,"titleFontWeight":"bold","titleAngle":0,"titleAlign":"left","titleBaseline":"alphabetic","titleX":489,"titleY":139}},
"y":{"datum":5.6,"type":"quantitative","axis":{"orient":"right","values":[-5,0,5],"labels":false,"tickSize":-8,"tickWidth":1.5,"title":null}}}}
]},
{"width":514,"height":104,"data":{"name":"R"},
"resolve":{"axis":{"x":"independent","y":"independent"}},
"layer":[
{"data":{"values":[{}]},"mark":{"type":"rule","color":"#ff0000","strokeWidth":1.5},
"encoding":{
"x":{"datum":0,"type":"quantitative","scale":{"domain":[0,2.085],"nice":false,"zero":false},"axis":{"orient":"top","values":[0.0625,0.125,0.1875,0.3125,0.375,0.4375,0.5625,0.625,0.6875,0.8125,0.875,0.9375,1.0625,1.125,1.1875,1.3125,1.375,1.4375,1.5625,1.625,1.6875,1.8125,1.875,1.9375,2.0625],"labels":false,"tickSize":-4,"title":null}},
"x2":{"datum":2.085},
"y":{"datum":0.1,"type":"quantitative","scale":{"domain":[-7,9],"nice":false,"zero":false},"axis":{"orient":"right","values":[-6,-4,-3,-2,-1,1,2,3,4,6,7,8],"labels":false,"tickSize":-4,"title":null}}}},
{"mark":{"type":"circle","size":50,"color":"#4a4a4a","stroke":"#222222","strokeWidth":0.8,"opacity":1},
"encoding":{
"x":{"field":"c","type":"quantitative","axis":{"orient":"bottom","values":[0.25,0.5,0.75,1,1.25,1.5,1.75,2],"format":".2f","tickSize":-8,"tickWidth":1.5,"labelPadding":13,"title":"σ","titleFont":"Liberation Serif","titleFontSize":31,"titleFontWeight":"normal","titleAngle":0,"titleAlign":"left","titleBaseline":"alphabetic","titleX":422,"titleY":52}},
"y":{"field":"r","type":"quantitative","axis":{"orient":"left","values":[-5,0,5],"format":"d","tickSize":-8,"tickWidth":1.5,"labelPadding":14,"title":"(Fit-Data)/Error","titleFontSize":26,"titleFontWeight":"bold","titleAngle":270,"titleAlign":"right","titleBaseline":"alphabetic","titleX":-23,"titleY":-14}}}},
{"data":{"values":[{}]},"mark":{"type":"rule","color":"#ff4444","strokeWidth":1.5},
"encoding":{
"x":{"datum":1.525,"type":"quantitative","axis":{"orient":"bottom","values":[0.0625,0.125,0.1875,0.3125,0.375,0.4375,0.5625,0.625,0.6875,0.8125,0.875,0.9375,1.0625,1.125,1.1875,1.3125,1.375,1.4375,1.5625,1.625,1.6875,1.8125,1.875,1.9375,2.0625],"labels":false,"tickSize":-4,"title":"long,5x5","titleFontSize":16,"titleFontWeight":"bold","titleAngle":0,"titleAlign":"left","titleBaseline":"alphabetic","titleX":443,"titleY":56}},
"x2":{"datum":1.639},
"y":{"datum":5.6,"type":"quantitative","axis":{"orient":"left","values":[-6,-4,-3,-2,-1,1,2,3,4,6,7,8],"labels":false,"tickSize":-4,"title":null}}}},
{"data":{"values":[{}]},"mark":{"type":"text","text":"Average","align":"left","baseline":"middle","fontSize":22},
"encoding":{
"x":{"datum":1.692,"type":"quantitative","axis":{"orient":"top","values":[0.25,0.5,0.75,1,1.25,1.5,1.75,2],"labels":false,"tickSize":-8,"tickWidth":1.5,"title":"2","titleFontSize":15,"titleFontWeight":"bold","titleAngle":0,"titleAlign":"left","titleBaseline":"alphabetic","titleX":444,"titleY":139}},
"y":{"datum":5.6,"type":"quantitative","axis":{"orient":"right","values":[-5,0,5],"labels":false,"tickSize":-8,"tickWidth":1.5,"title":null}}}}
]}
]
}
